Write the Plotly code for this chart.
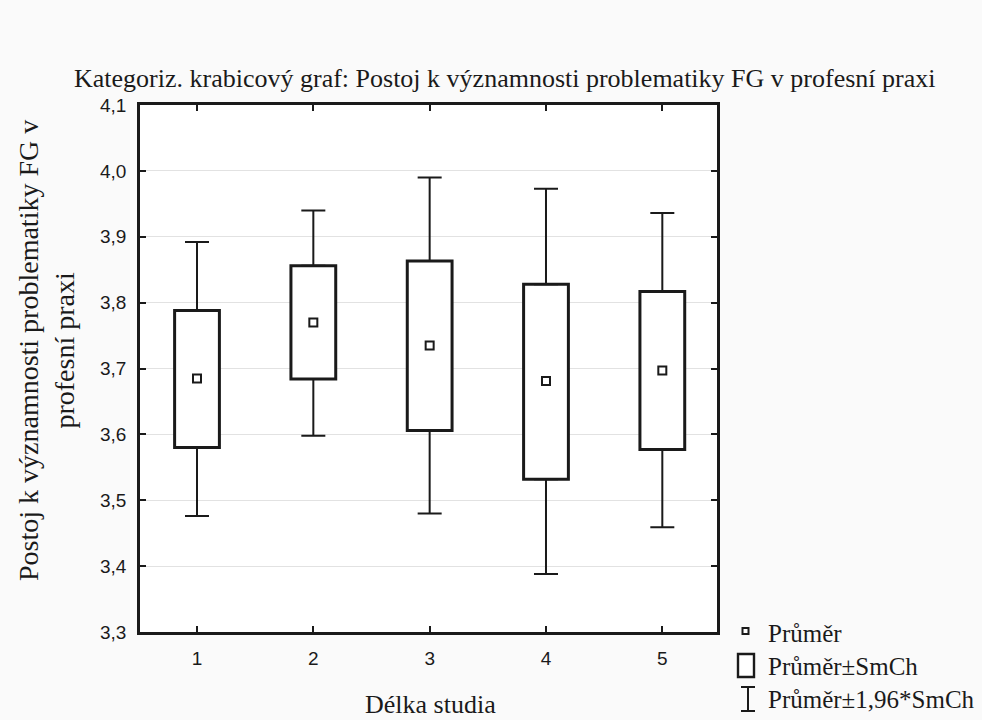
import plotly.graph_objects as go

# ---- data ----
categories = [1, 2, 3, 4, 5]
means = [3.685, 3.770, 3.735, 3.681, 3.697]
se_low = [3.580, 3.684, 3.606, 3.532, 3.577]      # Průměr - SmCh
se_high = [3.788, 3.856, 3.863, 3.828, 3.817]     # Průměr + SmCh
ci_low = [3.476, 3.598, 3.480, 3.388, 3.459]      # Průměr - 1,96*SmCh
ci_high = [3.892, 3.940, 3.990, 3.973, 3.936]     # Průměr + 1,96*SmCh
y_ticks = [3.3, 3.4, 3.5, 3.6, 3.7, 3.8, 3.9, 4.0, 4.1]

title_text = "Kategoriz. krabicový graf: Postoj k významnosti problematiky FG v profesní praxi"
y_title = "Postoj k významnosti problematiky FG v<br>profesní praxi"
x_title = "Délka studia"
legend_labels = ["Průměr", "Průměr±SmCh", "Průměr±1,96*SmCh"]

# ---- layout geometry (pixels) ----
W, H = 982, 720
L, R, T, B = 140, 717, 105, 632


def px(x):
    return (x - L) / (R - L)


def py(y):
    return (B - y) / (B - T)


SERIF = "Liberation Serif, Times New Roman, serif"
SANS = "Liberation Sans, Arial, sans-serif"
BLACK = "#1a1a1a"

fig = go.Figure()

# upper whiskers
fig.add_trace(go.Scatter(
    x=categories, y=se_high, mode="markers",
    marker=dict(size=1, color="rgba(0,0,0,0)"),
    error_y=dict(type="data", symmetric=False,
                 array=[h - s for h, s in zip(ci_high, se_high)],
                 arrayminus=[0] * len(categories),
                 color=BLACK, thickness=2, width=12),
    showlegend=False, hoverinfo="skip"))
# lower whiskers
fig.add_trace(go.Scatter(
    x=categories, y=se_low, mode="markers",
    marker=dict(size=1, color="rgba(0,0,0,0)"),
    error_y=dict(type="data", symmetric=False,
                 array=[0] * len(categories),
                 arrayminus=[s - l for s, l in zip(se_low, ci_low)],
                 color=BLACK, thickness=2, width=12),
    showlegend=False, hoverinfo="skip"))

# boxes (mean ± SE)
fig.add_trace(go.Bar(
    x=categories, base=se_low,
    y=[h - l for h, l in zip(se_high, se_low)],
    width=0.385,
    marker=dict(color="white", line=dict(color=BLACK, width=3)),
    showlegend=False, hoverinfo="skip"))

# means
fig.add_trace(go.Scatter(
    x=categories, y=means, mode="markers",
    marker=dict(symbol="square", size=8, color="white",
                line=dict(color=BLACK, width=2)),
    showlegend=False))

# ---- manual legend ----
shapes = []
annotations = []
# mean marker symbol
shapes.append(dict(type="rect", xref="paper", yref="paper",
                   x0=px(742.5), x1=px(748.5), y0=py(634), y1=py(628),
                   line=dict(color=BLACK, width=2), fillcolor="white"))
# box symbol
shapes.append(dict(type="rect", xref="paper", yref="paper",
                   x0=px(738), x1=px(754), y0=py(677), y1=py(654),
                   line=dict(color=BLACK, width=2.4), fillcolor="white"))
# whisker symbol
shapes.append(dict(type="line", xref="paper", yref="paper",
                   x0=px(748), x1=px(748), y0=py(711), y1=py(687),
                   line=dict(color=BLACK, width=2)))
shapes.append(dict(type="line", xref="paper", yref="paper",
                   x0=px(741), x1=px(755), y0=py(687), y1=py(687),
                   line=dict(color=BLACK, width=2)))
shapes.append(dict(type="line", xref="paper", yref="paper",
                   x0=px(741), x1=px(755), y0=py(711), y1=py(711),
                   line=dict(color=BLACK, width=2)))

for lab, yc in zip(legend_labels, [633, 666, 699]):
    annotations.append(dict(text=lab, xref="paper", yref="paper",
                            x=px(766), y=py(yc), xanchor="left", yanchor="middle",
                            showarrow=False, font=dict(family=SERIF, size=25, color=BLACK)))

# axis titles
annotations.append(dict(text=y_title, xref="paper", yref="paper",
                        x=px(46), y=py(351), xanchor="center", yanchor="middle",
                        textangle=-90, showarrow=False,
                        font=dict(family=SERIF, size=28, color=BLACK)))
annotations.append(dict(text=x_title, xref="paper", yref="paper",
                        x=px(430), y=py(704), xanchor="center", yanchor="middle",
                        showarrow=False, font=dict(family=SERIF, size=26, color=BLACK)))

fig.update_layout(
    width=W, height=H,
    margin=dict(l=L, r=W - R, t=T, b=H - B, pad=0),
    paper_bgcolor="#fafafa", plot_bgcolor="white",
    separators=", ",
    barmode="overlay",
    title=dict(text=title_text, x=0.514, xanchor="center", xref="container",
               y=1 - 78 / H, yanchor="middle", yref="container",
               font=dict(family=SERIF, size=26, color=BLACK)),
    shapes=shapes, annotations=annotations,
    showlegend=False,
)

fig.update_xaxes(
    range=[0.51, 5.47], tickvals=categories, ticktext=[str(c) for c in categories],
    ticks="inside", ticklen=6, tickwidth=2, tickcolor=BLACK,
    showline=True, linecolor=BLACK, linewidth=2.5, mirror="ticks",
    showgrid=False, zeroline=False,
    tickfont=dict(family=SANS, size=19, color=BLACK),
    ticklabelstandoff=7,
)
fig.update_yaxes(
    range=[3.3, 4.1], tickvals=y_ticks, tickformat=".1f",
    ticks="inside", ticklen=6, tickwidth=2, tickcolor=BLACK,
    showline=True, linecolor=BLACK, linewidth=2.5, mirror="ticks",
    showgrid=True, gridcolor="#e2e2e2", gridwidth=1, zeroline=False,
    tickfont=dict(family=SANS, size=19, color=BLACK),
    ticklabelstandoff=7,
)

fig.write_html("out.html")
